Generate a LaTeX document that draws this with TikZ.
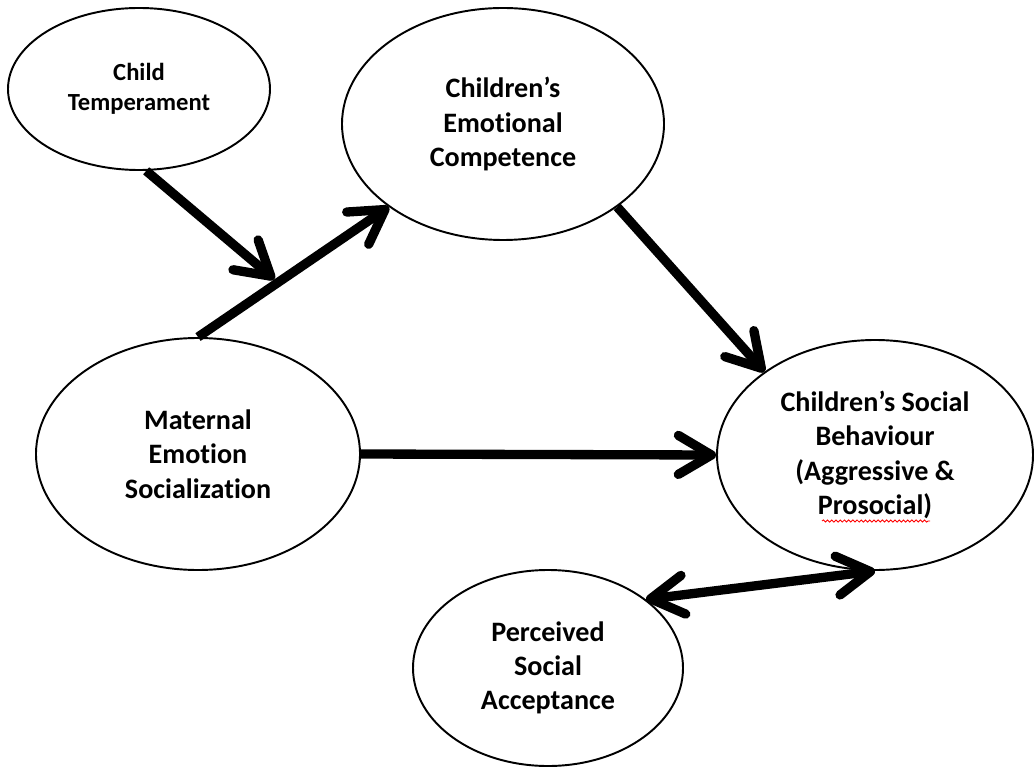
\documentclass[tikz,border=0pt]{standalone}
\usepackage{fontspec}
\setmainfont[Ligatures=NoCommon]{Carlito}
\usepackage{tikz}
\usetikzlibrary{arrows.meta,calc,positioning,shapes.geometric,decorations.pathmorphing,backgrounds}
\pgfdeclarelayer{edgelayer}
\pgfdeclarelayer{nodelayer}
\pgfsetlayers{edgelayer,nodelayer,main}
\tikzstyle{construct}=[ellipse, draw=black, line width=1.1pt, inner sep=0pt, align=center, font=\fontsize{16}{19.5}\selectfont\bfseries]
\tikzstyle{smallconstruct}=[construct, font=\fontsize{14}{17}\selectfont\bfseries]
\tikzstyle{pathway}=[-{Straight Barb[length=6.6mm,width=7.8mm,round]}, line width=5.3pt]
\tikzstyle{twoway}=[{Straight Barb[length=6.6mm,width=7.8mm,round]}-{Straight Barb[length=6.6mm,width=7.8mm,round]}, line width=5.3pt]
\tikzstyle{squiggle}=[draw=red, line width=0.5pt, decorate, decoration={snake, amplitude=0.6pt, segment length=2.4pt}]

\begin{document}
\begin{tikzpicture}
	\useasboundingbox (0,0) rectangle (20.68,15.38);
	\begin{pgfonlayer}{nodelayer}
		\node [style=smallconstruct, minimum width=5.24cm, minimum height=3.24cm] (ct) at (2.78,13.60) {Child\\Temperament};
		\node [style=construct, minimum width=6.44cm, minimum height=4.64cm] (ec) at (10.06,12.90) {Children’s\\Emotional\\Competence};
		\node [style=construct, minimum width=6.48cm, minimum height=4.64cm] (ms) at (3.96,6.30) {Maternal\\Emotion\\Socialization};
		\node [style=construct, minimum width=6.32cm, minimum height=4.60cm] (sb) at (17.50,6.28) {Children’s Social\\Behaviour\\(Aggressive \&\\Prosocial)};
		\node [style=construct, minimum width=5.40cm, minimum height=3.92cm] (psa) at (10.96,2.02) {Perceived\\Social\\Acceptance};

		\coordinate (jn) at ($(ms.north)!0.42!(ec.216)$);
		\coordinate (sqL) at ($(sb)+(-1.06,-1.32)$);
		\coordinate (sqR) at ($(sb)+(1.10,-1.32)$);
	\end{pgfonlayer}
	\begin{pgfonlayer}{edgelayer}
		\draw [style=pathway] (ms.north) to (ec.216);
		\draw [style=pathway, shorten >=0.1cm] (ct.275) to (jn);
		\draw [style=pathway] (ec.324) to (sb.143);
		\draw [style=pathway] (ms.east) to (sb.west);
		\draw [style=twoway] (psa.35) to (sb.south);
		\draw [style=squiggle] (sqL) to (sqR);
	\end{pgfonlayer}
\end{tikzpicture}
\end{document}
